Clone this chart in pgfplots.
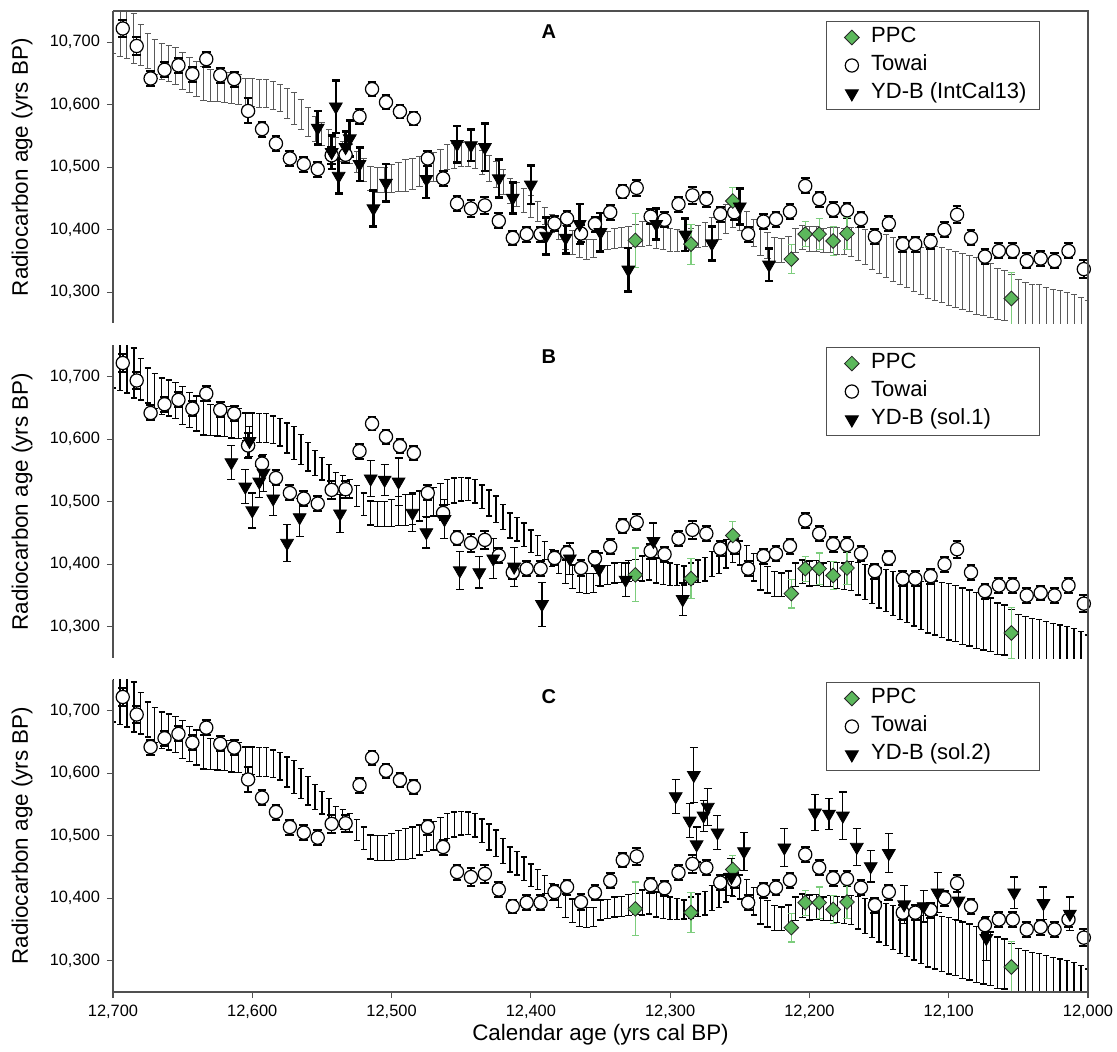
\documentclass[border=0pt]{standalone}
\usepackage{fontspec}
\setmainfont{Liberation Sans}
\usepackage{pgfplots}
\usepackage{pgfplotstable}
\pgfplotsset{compat=1.18}
\definecolor{ppcgreen}{RGB}{92,184,92}
\definecolor{ppcerr}{RGB}{125,205,125}
\definecolor{axcol}{RGB}{80,80,80}

% IntCal13 (read off the comb): cal BP, 14C age, 1 sigma
\pgfplotstableread{
cal mid err
12700 10722 40
12695 10718 40
12690 10714 40
12685 10706 40
12680 10696 33
12675 10686 28
12670 10677 28
12665 10669 29
12660 10666 29
12655 10662 29
12650 10654 30
12645 10647 28
12640 10641 28
12635 10634 27
12630 10631 25
12625 10629 24
12620 10628 24
12615 10627 25
12610 10625 24
12605 10620 22
12600 10620 22
12595 10618 23
12590 10618 23
12585 10615 22
12580 10611 22
12575 10602 24
12570 10594 26
12565 10584 24
12560 10572 23
12555 10562 20
12550 10553 18
12545 10543 17
12540 10533 14
12535 10526 16
12530 10521 15
12525 10509 17
12520 10496 18
12515 10482 19
12510 10480 20
12505 10480 20
12500 10482 22
12495 10485 23
12490 10487 25
12485 10489 25
12480 10493 24
12475 10497 22
12470 10500 23
12465 10506 23
12460 10516 20
12455 10518 20
12450 10520 19
12445 10520 18
12440 10517 19
12435 10508 19
12430 10498 21
12425 10488 21
12420 10476 20
12415 10462 20
12410 10456 19
12405 10447 19
12400 10437 18
12395 10430 16
12390 10422 14
12385 10410 14
12380 10400 15
12375 10388 19
12370 10380 19
12365 10373 18
12360 10369 16
12355 10370 15
12350 10381 16
12345 10383 15
12340 10386 16
12335 10387 16
12330 10389 17
12325 10391 17
12320 10393 20
12315 10396 21
12310 10390 20
12305 10387 19
12300 10384 18
12295 10383 17
12290 10382 15
12285 10385 17
12280 10389 18
12275 10392 19
12270 10400 20
12265 10407 22
12260 10417 23
12255 10424 21
12250 10418 19
12245 10412 18
12240 10395 22
12235 10383 24
12230 10375 21
12225 10368 20
12220 10367 19
12215 10370 19
12210 10383 19
12205 10388 19
12200 10385 20
12195 10386 20
12190 10383 19
12185 10384 20
12180 10382 21
12175 10381 21
12170 10381 23
12165 10377 26
12160 10372 28
12155 10367 30
12150 10362 32
12145 10358 34
12140 10353 35
12135 10348 36
12130 10343 36
12125 10338 37
12120 10334 38
12115 10331 41
12110 10330 43
12105 10327 44
12100 10324 45
12095 10321 45
12090 10317 45
12085 10314 45
12080 10310 45
12075 10307 44
12070 10303 43
12065 10297 41
12060 10295 40
12055 10288 40
12050 10280 40
12045 10276 40
12040 10273 40
12035 10272 40
12030 10268 40
12025 10265 40
12020 10263 40
12015 10260 40
12010 10257 40
12005 10252 40
12000 10247 40
}\intcal

\pgfplotstableread{
cal age err
12693 10722 14
12683 10694 14
12673 10642 12
12663 10656 12
12653 10663 12
12643 10649 12
12633 10673 12
12623 10647 12
12613 10641 12
12603 10590 20
12593 10561 12
12583 10538 12
12573 10514 12
12563 10505 12
12553 10497 12
12543 10519 14
12533 10520 14
12523 10581 12
12514 10625 11
12504 10604 11
12494 10589 11
12484 10578 11
12474 10514 12
12463 10482 12
12453 10442 12
12443 10434 14
12433 10439 14
12423 10414 12
12413 10387 11
12403 10393 12
12393 10393 12
12383 10410 12
12374 10418 12
12364 10394 13
12354 10409 12
12343 10428 12
12334 10461 11
12324 10467 13
12314 10421 12
12304 10416 12
12294 10441 12
12284 10455 14
12274 10449 12
12264 10425 12
12254 10428 12
12244 10393 12
12233 10413 12
12224 10417 12
12214 10429 12
12203 10470 12
12193 10449 12
12183 10432 12
12173 10431 12
12163 10417 12
12153 10389 12
12143 10410 12
12133 10377 12
12124 10377 12
12113 10381 12
12103 10400 12
12094 10424 14
12084 10387 12
12074 10357 12
12064 10366 12
12054 10366 12
12044 10350 12
12034 10354 12
12024 10350 12
12014 10366 12
12003 10337 14
}\towai

\pgfplotstableread{
cal age err
12325 10383 43
12285 10377 32
12255 10446 22
12213 10353 23
12203 10393 20
12193 10393 25
12183 10382 23
12173 10394 26
12055 10290 41
}\ppc

\pgfplotstableread{
cal age err
12553 10563 27
12540 10597 42
12543 10524 27
12538 10486 28
12533 10532 25
12530 10546 29
12523 10505 27
12513 10434 29
12504 10475 30
12475 10481 30
12453 10537 29
12443 10535 25
12433 10532 38
12423 10482 30
12413 10451 25
12400 10472 31
12389 10390 30
12375 10387 25
12365 10409 32
12350 10396 31
12330 10336 35
12310 10409 25
12289 10392 26
12270 10378 27
12250 10437 29
12229 10344 26
}\ydbA

\pgfplotstableread{
cal age err
12615 10563 27
12602 10597 24
12605 10524 27
12600 10486 28
12595 10532 25
12592 10546 29
12585 10505 27
12575 10434 29
12566 10475 30
12537 10481 30
12515 10537 29
12505 10535 25
12495 10532 38
12485 10482 30
12475 10451 25
12462 10472 31
12451 10390 30
12437 10387 25
12427 10409 32
12412 10396 31
12392 10336 35
12372 10409 25
12351 10392 26
12332 10375 27
12312 10437 29
12291 10344 26
}\ydbB

\pgfplotstableread{
cal age err
12296 10563 27
12283 10597 44
12286 10524 27
12281 10486 28
12276 10532 25
12273 10546 29
12266 10505 27
12256 10434 29
12247 10475 30
12218 10481 30
12196 10537 29
12186 10535 25
12176 10532 38
12166 10482 30
12156 10451 25
12143 10472 31
12132 10390 30
12118 10387 25
12108 10409 32
12093 10396 31
12073 10336 35
12053 10409 25
12032 10392 26
12013 10375 27
}\ydbC

\pgfplotsset{
  panel/.style={
    scale only axis, width=487.5pt, height=156.25pt, anchor=north west,
    xmin=12000, xmax=12700, ymin=10250, ymax=10750, x dir=reverse,
    axis line style={draw=none},
    ytick={10300,10400,10500,10600,10700},
    ytick pos=left, xtick pos=left,
    tick align=outside, major tick length=3pt,
    tick style={axcol, line width=0.6pt},
    scaled ticks=false,
    /pgf/number format/assume math mode=true,
    /pgf/number format/1000 sep={,},
    ticklabel style={font=\fontsize{8.2}{9.8}\selectfont},
    ylabel={Radiocarbon age (yrs BP)},
    ylabel style={font=\fontsize{11.2}{13}\selectfont, at={(axis description cs:-0.0933,0.5)}, anchor=center},
    legend cell align=left,
    legend style={anchor=north west, draw=axcol, line width=0.5pt, fill=white,
      inner xsep=9pt, inner ysep=1pt, font=\fontsize{11}{13}\selectfont,
      nodes={inner sep=2pt, text height=7.5pt, text depth=2.5pt}},
  },
  combA/.style={draw=none, mark=none, forget plot, error bars/.cd, y dir=both, y explicit,
    error bar style={line width=0.45pt, draw=black!65}, error mark options={rotate=90, mark size=1.6pt, line width=0.45pt, draw=black!65}},
  combB/.style={draw=none, mark=none, forget plot, error bars/.cd, y dir=both, y explicit,
    error bar style={line width=0.65pt, draw=black}, error mark options={rotate=90, mark size=1.6pt, line width=0.65pt, draw=black}},
  towai/.style={only marks, forget plot, mark=*, mark size=3.3pt, mark options={fill=white, draw=black, line width=0.6pt},
    error bars/.cd, y dir=both, y explicit, error bar style={black, line width=0.8pt},
    error mark options={rotate=90, mark size=2.2pt, black, line width=1pt}},
  ppc/.style={only marks, forget plot, mark=square*, mark size=2.6pt, mark options={rotate=45, fill=ppcgreen, draw=black!85, line width=0.4pt},
    error bars/.cd, y dir=both, y explicit, error bar style={ppcerr, line width=0.6pt},
    error mark options={rotate=90, mark size=1.8pt, ppcerr, line width=0.6pt}},
  ydb/.style={only marks, forget plot, mark=triangle*, mark size=3.7pt, mark options={rotate=180, fill=black, draw=black},
    error bars/.cd, y dir=both, y explicit, error bar style={black, line width=#1},
    error mark options={rotate=90, mark size=2pt, black, line width=#1}},
}
\newcommand{\legtext}[1]{\hspace*{4pt}\makebox[73pt][l]{#1}}
\newcommand{\legimages}{%
  \addlegendimage{only marks, mark=square*, mark size=2.6pt, mark options={rotate=45, fill=ppcgreen, draw=black!85, line width=0.4pt}}
  \addlegendentry{\legtext{PPC}}
  \addlegendimage{only marks, mark=*, mark size=3.3pt, mark options={fill=white, draw=black, line width=0.6pt}}
  \addlegendentry{\legtext{Towai}}
}

\begin{document}
\begin{tikzpicture}
\useasboundingbox (0,0) rectangle (558.5pt,-526pt);

\begin{axis}[panel, name=A, at={(56.5pt,-5.5pt)}, xtick=\empty,
  legend style={at={(axis description cs:0.7313,0.968)}}]
  \legimages
  \addlegendimage{only marks, mark=triangle*, mark size=3.7pt, mark options={rotate=180, fill=black, draw=black}}
  \addlegendentry{\legtext{YD-B (IntCal13)}}
  \addplot[combA] table[x=cal, y=mid, y error=err] {\intcal};
  \addplot[towai] table[x=cal, y=age, y error=err] {\towai};
  \addplot[ppc] table[x=cal, y=age, y error=err] {\ppc};
  \addplot[ydb=1.3pt] table[x=cal, y=age, y error=err] {\ydbA};
  \node[font=\bfseries\fontsize{10}{12}\selectfont] at (axis description cs:0.447,0.933) {A};
\end{axis}

\begin{axis}[panel, name=B, at={(56.5pt,-172.75pt)}, xtick=\empty,
  legend style={at={(axis description cs:0.7313,0.995)}}]
  \legimages
  \addlegendimage{only marks, mark=triangle*, mark size=3.7pt, mark options={rotate=180, fill=black, draw=black}}
  \addlegendentry{\legtext{YD-B (sol.1)}}
  \addplot[combB] table[x=cal, y=mid, y error=err] {\intcal};
  \addplot[towai] table[x=cal, y=age, y error=err] {\towai};
  \addplot[ppc] table[x=cal, y=age, y error=err] {\ppc};
  \addplot[ydb=0.6pt] table[x=cal, y=age, y error=err] {\ydbB};
  \node[font=\bfseries\fontsize{10}{12}\selectfont] at (axis description cs:0.447,0.964) {B};
\end{axis}

\begin{axis}[panel, name=C, at={(56.5pt,-339.75pt)},
  xtick={12000,12100,12200,12300,12400,12500,12600,12700},
  xlabel={Calendar age (yrs cal BP)},
  xlabel style={font=\fontsize{11.2}{13}\selectfont, at={(axis description cs:0.5,-0.1376)}, anchor=center},
  legend style={at={(axis description cs:0.7313,0.992)}}]
  \legimages
  \addlegendimage{only marks, mark=triangle*, mark size=3.7pt, mark options={rotate=180, fill=black, draw=black}}
  \addlegendentry{\legtext{YD-B (sol.2)}}
  \addplot[combB] table[x=cal, y=mid, y error=err] {\intcal};
  \addplot[towai] table[x=cal, y=age, y error=err] {\towai};
  \addplot[ppc] table[x=cal, y=age, y error=err] {\ppc};
  \addplot[ydb=0.6pt] table[x=cal, y=age, y error=err] {\ydbC};
  \node[font=\bfseries\fontsize{10}{12}\selectfont] at (axis description cs:0.447,0.945) {C};
\end{axis}

\draw[axcol, line width=0.6pt] (A.north west) -- (A.south west);
\draw[axcol, line width=0.6pt] (B.north west) -- (B.south west);
\draw[axcol, line width=0.6pt] (C.north west) -- (C.south west) -- (C.south east);
\draw[axcol, line width=0.6pt] (A.north west) -- (A.north east) -- (C.south east);
\end{tikzpicture}
\end{document}
